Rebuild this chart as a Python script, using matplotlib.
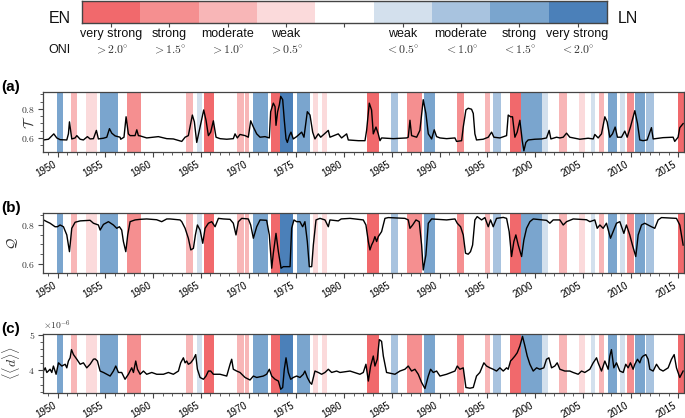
import matplotlib
matplotlib.use("Agg")
import matplotlib.pyplot as plt
from matplotlib.colors import ListedColormap
from matplotlib.ticker import MultipleLocator, AutoMinorLocator, FuncFormatter
import numpy as np

plt.rcParams['font.family'] = ['Liberation Sans', 'DejaVu Sans']
plt.rcParams['mathtext.fontset'] = 'cm'

# ---------------- data ----------------
CAT_NAMES = ["very strong", "strong", "moderate", "weak", "",
             "weak", "moderate", "strong", "very strong"]
CAT_ONI = [r"$>2.0^{\circ}$", r"$>1.5^{\circ}$", r"$>1.0^{\circ}$", r"$>0.5^{\circ}$", "",
           r"$<0.5^{\circ}$", r"$<1.0^{\circ}$", r"$<1.5^{\circ}$", r"$<2.0^{\circ}$"]
CAT_COLORS = ["#f1696c", "#f58f90", "#f8b6b7", "#fbdadb", "#ffffff",
              "#d3e0ed", "#a8c3df", "#7aa5ce", "#4b80b9"]
# band category: +4 very strong EN ... -4 very strong LN
BAND_START = [1949.92, 1951.38, 1952.98, 1954.45, 1957.24, 1963.45, 1964.57, 1965.33,
              1968.82, 1969.59, 1970.49, 1972.31, 1973.29, 1975.10, 1976.71, 1977.65,
              1982.36, 1984.88, 1986.61, 1988.33, 1991.78, 1994.75, 1995.61, 1997.36,
              1998.51, 2000.74, 2002.49, 2004.58, 2005.84, 2006.71, 2007.59, 2008.87,
              2009.61, 2010.52, 2011.60, 2014.92]
BAND_END = [1950.54, 1952.01, 1954.17, 1956.36, 1958.71, 1964.15, 1965.12, 1966.38,
            1969.52, 1970.01, 1972.07, 1973.29, 1974.68, 1976.43, 1977.30, 1978.24,
            1983.62, 1985.61, 1988.18, 1989.51, 1992.58, 1995.27, 1996.39, 1998.51,
            2000.68, 2001.31, 2003.30, 2005.21, 2006.33, 2007.23, 2008.63, 2009.40,
            2010.37, 2011.49, 2012.44, 2015.70]
BAND_CAT = [-3, 2, 1, -3, 3, 2, -1, 4,
            2, 2, -3, 4, -4, -3, 1, 1,
            4, -2, 3, -3, 3, 2, -2, 4,
            -3, -1, 2, 1, -1, 2, -3, -1,
            3, -3, -2, 4]

YEARS_T = [1948.52, 1949.04, 1949.6, 1949.91, 1950.26, 1950.96, 1951.13, 1951.24, 1951.48,
           1951.83, 1952.01, 1952.36, 1952.70, 1953.12, 1953.40, 1953.75, 1954.06, 1954.27,
           1954.45, 1954.80, 1955.15, 1955.43, 1955.67, 1956.02, 1956.54, 1956.61, 1956.95,
           1957.17, 1957.41, 1957.59, 1958.11, 1958.29, 1958.46, 1958.64, 1959.33, 1960.03,
           1960.55, 1961.43, 1962.12, 1963.00, 1963.35, 1963.69, 1964.11, 1964.32, 1964.57,
           1964.92, 1965.30, 1965.54, 1965.79, 1966.03, 1966.31, 1966.59, 1967.01, 1967.71,
           1968.40, 1968.58, 1968.82, 1969.10, 1969.63, 1969.97, 1970.22, 1970.50, 1970.85,
           1971.20, 1971.72, 1972.17, 1972.31, 1972.59, 1972.77, 1972.87, 1973.04, 1973.22,
           1973.36, 1973.57, 1973.74, 1973.92, 1974.06, 1974.27, 1974.44, 1974.68, 1975.03,
           1975.56, 1975.80, 1976.15, 1976.43, 1976.71, 1976.95, 1977.30, 1977.55, 1978.35,
           1978.52, 1979.39, 1979.74, 1980.27, 1980.44, 1981.50, 1982.19, 1982.36, 1982.64,
           1982.88, 1983.06, 1983.34, 1983.58, 1983.76, 1983.93, 1985.15, 1986.55, 1986.72,
           1986.90, 1987.07, 1987.60, 1987.94, 1988.29, 1988.57, 1988.82, 1989.17, 1989.44,
           1989.69, 1990.04, 1990.74, 1991.61, 1991.78, 1992.31, 1992.48, 1992.76, 1993.00,
           1993.35, 1993.53, 1993.70, 1993.87, 1994.57, 1995.10, 1995.45, 1995.69, 1996.32,
           1997.02, 1997.19, 1997.43, 1997.64, 1997.89, 1998.13, 1998.41, 1998.66, 1998.83,
           1999.04, 1999.28, 1999.98, 2000.68, 2001.20, 2001.48, 2001.66, 2002.25, 2002.60,
           2002.95, 2003.30, 2003.64, 2004.69, 2005.56, 2006.09, 2006.26, 2006.61, 2006.96,
           2007.31, 2007.55, 2007.83, 2008.11, 2008.39, 2008.63, 2009.05, 2009.40, 2009.65,
           2009.99, 2010.45, 2010.73, 2010.97, 2011.32, 2011.74, 2012.19, 2012.37, 2013.41,
           2014.46, 2014.63, 2014.98, 2015.16, 2015.51]
T_VALS = [0.586, 0.591, 0.628, 0.600, 0.588, 0.586, 0.628, 0.711, 0.593,
          0.600, 0.616, 0.591, 0.586, 0.609, 0.593, 0.595, 0.652, 0.593,
          0.595, 0.598, 0.605, 0.664, 0.633, 0.614, 0.605, 0.591, 0.605,
          0.746, 0.628, 0.616, 0.616, 0.656, 0.616, 0.614, 0.600, 0.605,
          0.609, 0.595, 0.593, 0.576, 0.605, 0.616, 0.758, 0.711, 0.569,
          0.675, 0.793, 0.722, 0.616, 0.640, 0.718, 0.605, 0.595, 0.591,
          0.595, 0.628, 0.600, 0.624, 0.616, 0.605, 0.718, 0.675, 0.628,
          0.605, 0.609, 0.600, 0.781, 0.840, 0.816, 0.687, 0.781, 0.828,
          0.887, 0.864, 0.722, 0.593, 0.569, 0.616, 0.640, 0.593, 0.609,
          0.640, 0.605, 0.781, 0.758, 0.640, 0.593, 0.628, 0.605, 0.652,
          0.605, 0.628, 0.600, 0.628, 0.586, 0.581, 0.581, 0.652, 0.840,
          0.793, 0.628, 0.675, 0.628, 0.581, 0.600, 0.595, 0.600, 0.605,
          0.722, 0.616, 0.605, 0.652, 0.864, 0.769, 0.628, 0.593, 0.656,
          0.609, 0.600, 0.595, 0.600, 0.576, 0.581, 0.675, 0.793, 0.805,
          0.798, 0.769, 0.628, 0.586, 0.591, 0.605, 0.640, 0.605, 0.600,
          0.616, 0.758, 0.746, 0.746, 0.605, 0.640, 0.722, 0.581, 0.511,
          0.569, 0.586, 0.591, 0.593, 0.600, 0.652, 0.593, 0.605, 0.600,
          0.605, 0.633, 0.605, 0.591, 0.598, 0.593, 0.624, 0.600, 0.628,
          0.746, 0.711, 0.605, 0.628, 0.675, 0.605, 0.605, 0.647, 0.605,
          0.675, 0.788, 0.699, 0.586, 0.581, 0.586, 0.671, 0.593, 0.602,
          0.605, 0.576, 0.605, 0.671, 0.699]

YEARS_Q = [1948.52, 1948.87, 1949.21, 1949.73, 1949.98, 1950.26, 1950.61, 1950.96, 1951.24,
           1951.48, 1951.83, 1952.36, 1953.40, 1953.75, 1954.27, 1954.45, 1954.80, 1955.32,
           1955.84, 1956.19, 1956.47, 1956.71, 1956.89, 1957.14, 1957.34, 1957.59, 1958.11,
           1958.64, 1959.33, 1960.37, 1960.90, 1961.43, 1961.77, 1962.82, 1963.00, 1963.35,
           1963.69, 1963.95, 1964.22, 1964.43, 1964.64, 1964.92, 1965.20, 1965.44, 1965.79,
           1966.14, 1966.49, 1966.84, 1967.36, 1968.06, 1968.40, 1968.68, 1968.93, 1969.28,
           1969.97, 1970.22, 1970.50, 1970.85, 1971.20, 1971.89, 1972.17, 1972.42, 1972.59,
           1972.87, 1973.12, 1973.40, 1973.64, 1974.34, 1974.51, 1974.75, 1975.03, 1975.38,
           1975.66, 1975.90, 1976.15, 1976.36, 1976.61, 1976.78, 1977.06, 1977.48, 1978.00,
           1978.35, 1978.52, 1979.39, 1979.70, 1980.62, 1982.01, 1982.29, 1982.54, 1982.71,
           1982.88, 1983.06, 1983.23, 1983.41, 1983.58, 1983.93, 1984.28, 1984.63, 1986.37,
           1986.72, 1986.90, 1987.18, 1987.53, 1987.87, 1988.12, 1988.29, 1988.57, 1988.82,
           1989.17, 1990.74, 1991.61, 1991.85, 1992.20, 1992.48, 1992.72, 1993.00, 1993.24,
           1993.46, 1993.70, 1993.94, 1994.40, 1994.75, 1995.10, 1995.34, 1995.62, 1995.97,
           1996.67, 1997.02, 1997.29, 1997.54, 1997.78, 1997.99, 1998.24, 1998.59, 1998.83,
           1999.11, 1999.46, 1999.81, 2001.20, 2001.55, 2001.90, 2002.60, 2002.95, 2003.30,
           2004.00, 2005.39, 2005.74, 2006.26, 2006.51, 2006.79, 2007.13, 2007.48, 2007.90,
           2008.18, 2008.53, 2008.88, 2009.30, 2009.57, 2009.92, 2010.20, 2010.55, 2010.80,
           2011.15, 2011.49, 2011.84, 2012.19, 2012.54, 2012.89, 2013.24, 2014.81, 2015.16,
           2015.51]
Q_VALS = [0.826, 0.817, 0.809, 0.791, 0.791, 0.800, 0.791, 0.749, 0.663,
          0.783, 0.814, 0.821, 0.824, 0.809, 0.800, 0.774, 0.803, 0.817,
          0.800, 0.783, 0.791, 0.774, 0.715, 0.663, 0.749, 0.817, 0.826,
          0.829, 0.831, 0.827, 0.817, 0.831, 0.831, 0.826, 0.817, 0.783,
          0.732, 0.672, 0.680, 0.749, 0.800, 0.774, 0.706, 0.783, 0.809,
          0.817, 0.791, 0.834, 0.831, 0.829, 0.809, 0.749, 0.817, 0.834,
          0.831, 0.800, 0.732, 0.791, 0.826, 0.824, 0.749, 0.578, 0.655,
          0.757, 0.663, 0.578, 0.586, 0.586, 0.783, 0.826, 0.817, 0.817,
          0.791, 0.817, 0.715, 0.586, 0.586, 0.697, 0.826, 0.834, 0.826,
          0.791, 0.826, 0.821, 0.831, 0.834, 0.826, 0.800, 0.715, 0.672,
          0.697, 0.715, 0.740, 0.715, 0.740, 0.766, 0.834, 0.838, 0.834,
          0.826, 0.783, 0.800, 0.826, 0.817, 0.697, 0.569, 0.646, 0.809,
          0.831, 0.826, 0.831, 0.809, 0.791, 0.749, 0.655, 0.650, 0.663,
          0.697, 0.826, 0.843, 0.826, 0.838, 0.791, 0.826, 0.791, 0.834,
          0.839, 0.834, 0.766, 0.638, 0.715, 0.749, 0.697, 0.638, 0.723,
          0.783, 0.817, 0.831, 0.824, 0.809, 0.826, 0.826, 0.800, 0.817,
          0.831, 0.827, 0.817, 0.826, 0.783, 0.800, 0.783, 0.809, 0.732,
          0.766, 0.809, 0.817, 0.757, 0.800, 0.749, 0.697, 0.638, 0.749,
          0.800, 0.809, 0.800, 0.791, 0.783, 0.826, 0.838, 0.834, 0.800,
          0.697]

D_SCALE = 1e-6
YEARS_D = [1948.52, 1948.70, 1948.87, 1949.21, 1949.39, 1949.56, 1949.84, 1950.09, 1950.44,
           1950.79, 1950.96, 1951.13, 1951.31, 1951.45, 1951.66, 1952.01, 1952.36, 1952.70,
           1953.05, 1953.40, 1953.75, 1953.93, 1954.17, 1954.45, 1954.80, 1955.15, 1955.50,
           1955.84, 1956.09, 1956.37, 1956.71, 1957.06, 1957.41, 1957.76, 1957.94, 1958.18,
           1958.36, 1958.64, 1958.99, 1959.33, 1959.86, 1960.38, 1961.08, 1961.60, 1962.12,
           1962.65, 1962.89, 1963.17, 1963.35, 1963.52, 1963.69, 1963.94, 1964.22, 1964.46,
           1964.64, 1964.92, 1965.27, 1965.54, 1965.79, 1966.03, 1966.31, 1967.01, 1967.71,
           1968.06, 1968.23, 1968.40, 1968.75, 1969.10, 1969.63, 1970.15, 1970.50, 1970.85,
           1971.54, 1971.89, 1972.17, 1972.42, 1972.77, 1973.12, 1973.36, 1973.57, 1973.74,
           1973.92, 1974.16, 1974.41, 1974.68, 1975.03, 1975.38, 1975.73, 1975.90, 1976.15,
           1976.43, 1976.61, 1976.95, 1977.30, 1977.65, 1978.00, 1978.35, 1978.70, 1979.22,
           1979.57, 1980.62, 1981.66, 1982.01, 1982.29, 1982.54, 1982.78, 1983.06, 1983.23,
           1983.48, 1983.69, 1983.93, 1984.11, 1984.45, 1985.33, 1985.85, 1986.37, 1986.72,
           1987.07, 1987.42, 1987.77, 1988.12, 1988.47, 1988.82, 1989.06, 1989.34, 1989.69,
           1990.04, 1990.74, 1991.61, 1991.85, 1992.13, 1992.48, 1992.76, 1993.18, 1993.53,
           1993.87, 1994.22, 1994.64, 1994.92, 1995.27, 1995.62, 1995.97, 1996.32, 1996.67,
           1997.02, 1997.19, 1997.43, 1997.61, 1997.89, 1998.13, 1998.41, 1998.69, 1998.94,
           1999.18, 1999.46, 1999.81, 2000.16, 2000.50, 2000.92, 2001.20, 2001.45, 2001.73,
           2002.07, 2002.32, 2002.60, 2003.12, 2003.64, 2003.99, 2004.52, 2004.87, 2005.21,
           2005.74, 2006.09, 2006.44, 2006.61, 2006.96, 2007.31, 2007.66, 2007.83, 2008.00,
           2008.25, 2008.53, 2008.88, 2009.23, 2009.50, 2009.75, 2009.99, 2010.27, 2010.45,
           2010.73, 2010.97, 2011.15, 2011.32, 2011.60, 2011.84, 2012.02, 2012.37, 2012.72,
           2013.06, 2013.41, 2013.94, 2014.29, 2014.57, 2014.81, 2015.16, 2015.51]
D_VALS = [3.98, 4.07, 3.94, 4.03, 3.94, 4.12, 3.89, 4.21, 4.12,
          4.17, 4.07, 4.26, 4.35, 4.58, 4.44, 4.31, 4.17, 4.21,
          4.07, 4.17, 4.31, 4.32, 4.26, 3.98, 3.94, 3.89, 3.84,
          3.98, 4.12, 3.94, 3.94, 3.75, 3.89, 4.07, 3.94, 4.26,
          4.03, 3.89, 3.98, 3.89, 3.94, 3.89, 3.89, 3.94, 3.89,
          3.98, 4.21, 4.35, 4.21, 4.26, 4.17, 4.21, 4.31, 4.44,
          4.03, 3.80, 3.75, 3.84, 3.98, 3.98, 3.89, 3.89, 3.84,
          4.17, 4.31, 4.03, 3.98, 3.94, 3.80, 3.73, 3.84, 3.80,
          3.84, 3.89, 4.03, 3.84, 3.75, 3.70, 3.47, 3.52, 4.03,
          4.35, 3.94, 3.75, 3.80, 3.84, 3.80, 3.89, 3.98, 3.80,
          3.66, 3.61, 3.98, 3.94, 3.89, 3.94, 4.03, 3.94, 3.98,
          3.94, 3.98, 3.89, 3.94, 4.17, 3.70, 4.12, 4.40, 4.12,
          4.31, 4.86, 4.81, 4.40, 3.94, 3.89, 3.98, 4.03, 4.12,
          3.98, 4.03, 3.89, 3.66, 3.49, 3.84, 4.03, 3.94, 3.98,
          3.84, 3.89, 3.98, 4.12, 4.03, 4.07, 3.52, 3.50, 3.52,
          3.84, 3.94, 4.21, 4.12, 4.07, 4.03, 3.98, 4.07, 3.98,
          4.07, 4.03, 4.26, 4.31, 4.40, 4.49, 4.68, 4.95, 4.68,
          4.40, 4.17, 3.98, 4.07, 4.03, 4.07, 4.31, 4.35, 4.07,
          4.12, 4.21, 4.03, 3.98, 3.98, 3.94, 3.89, 3.98, 3.94,
          4.03, 4.21, 4.35, 4.21, 3.98, 4.26, 4.03, 4.40, 4.58,
          4.07, 4.21, 3.98, 3.94, 4.17, 4.07, 4.21, 4.03, 4.17,
          4.31, 4.21, 4.35, 4.40, 4.44, 4.31, 4.03, 3.98, 4.17,
          4.03, 3.98, 4.07, 4.31, 4.44, 4.07, 3.80, 3.98]

XLIM = (1948.5, 2015.6)

# ---------------- layout ----------------
W, H = 685, 418
fig = plt.figure(figsize=(W / 100, H / 100), dpi=100)


def rect(l, t, r, b):
    return [l / W, 1 - b / H, (r - l) / W, (b - t) / H]


SPINE = "#444444"

# colorbar
cax = fig.add_axes(rect(81.7, 0.6, 606.7, 23.3))
cmap = ListedColormap(CAT_COLORS)
cax.imshow(np.arange(len(CAT_COLORS))[None, :], cmap=cmap, aspect="auto",
           extent=[0, len(CAT_COLORS), 0, 1], interpolation="nearest")
cax.set_xlim(0, len(CAT_COLORS))
cax.set_ylim(0, 1)
cax.set_yticks([])
cax.set_xticks(np.arange(len(CAT_COLORS)) + 0.5)
cax.set_xticklabels([])
cax.tick_params(axis="x", direction="out", length=3, width=0.8, color=SPINE)
for s in cax.spines.values():
    s.set_color(SPINE)
    s.set_linewidth(1.0)
for i, (nm, oni) in enumerate(zip(CAT_NAMES, CAT_ONI)):
    if nm:
        cax.annotate(nm, xy=(i + 0.5, 0), xycoords="data", xytext=(0, -10.2),
                     textcoords="offset points", ha="center", va="baseline",
                     fontsize=9, color="#111111")
        cax.annotate(oni, xy=(i + 0.5, 0), xycoords="data", xytext=(0, -21.7),
                     textcoords="offset points", ha="center", va="baseline",
                     fontsize=8.5, color="#333333")
fig.text(60 / W, 1 - 23.3 / H, "EN", ha="center", va="baseline", fontsize=11.5, color="#111111")
fig.text(628 / W, 1 - 23.3 / H, "LN", ha="center", va="baseline", fontsize=11.5, color="#111111")
fig.text(59 / W, 1 - 53 / H, "ONI", ha="center", va="baseline", fontsize=9, color="#111111")

LEFT, RIGHT = 43.3, 684.0
panels = [
    ("(a)", (92.0, 151.7), YEARS_T, T_VALS, 1.0, (0.505, 0.917), 0.2, r"$\mathcal{T}$", 37),
    ("(b)", (213.3, 272.7), YEARS_Q, Q_VALS, 1.0, (0.555, 0.86), 0.2, r"$\mathcal{Q}$", 20),
    ("(c)", (333.5, 392.5), YEARS_D, D_VALS, D_SCALE, (3.38e-6, 5.03e-6), 1e-6,
     r"$\langle\langle d\rangle\rangle$", 22),
]

for label, (top, bot), xs, ys, scale, ylim, major, ylab, ylab_x in panels:
    r = rect(LEFT, top, RIGHT, bot)
    ax = fig.add_axes(r)
    for s0, s1, c in zip(BAND_START, BAND_END, BAND_CAT):
        ax.axvspan(s0, s1, color=CAT_COLORS[4 - c], lw=0, zorder=1)
    ax.plot(xs, np.asarray(ys) * scale, color="black", lw=1.0, zorder=3)
    ax.set_xlim(*XLIM)
    ax.set_ylim(*ylim)
    ax.xaxis.set_major_locator(MultipleLocator(5))
    ax.xaxis.set_minor_locator(MultipleLocator(1))
    ax.yaxis.set_major_locator(MultipleLocator(major))
    ax.yaxis.set_minor_locator(AutoMinorLocator())
    if scale == 1.0:
        ax.yaxis.set_major_formatter(FuncFormatter(lambda v, p: f"${v:.1f}$"))
    else:
        ax.yaxis.set_major_formatter(FuncFormatter(lambda v, p: f"${v / 1e-6:.0f}$"))
        ax.text(0.0, 1.02, r"$\times10^{-6}$", transform=ax.transAxes, ha="left",
                va="bottom", fontsize=7, color="#333333")
    ax.tick_params(axis="both", which="major", direction="out", length=3.5, width=0.8,
                   color=SPINE, labelsize=7, pad=2.5)
    ax.tick_params(axis="both", which="minor", direction="out", length=2, width=0.6, color=SPINE)
    ax.tick_params(axis="y", labelsize=7, labelcolor="#333333")
    ax.tick_params(axis="x", pad=1.8)
    for t in ax.get_xticklabels():
        t.set_rotation(30)
        t.set_ha("right")
    for s in ax.spines.values():
        s.set_color(SPINE)
        s.set_linewidth(0.9)
        s.set_zorder(4)
    ax.set_ylabel(ylab, fontsize=10, color="#333333")
    ax.yaxis.set_label_coords((ylab_x - LEFT) / (RIGHT - LEFT), 0.5)
    fig.text(1 / W, 1 - top / H + 5 / H, label, ha="left",
             va="center", fontsize=11, fontweight="bold")

fig.savefig("out.png", dpi=100)
